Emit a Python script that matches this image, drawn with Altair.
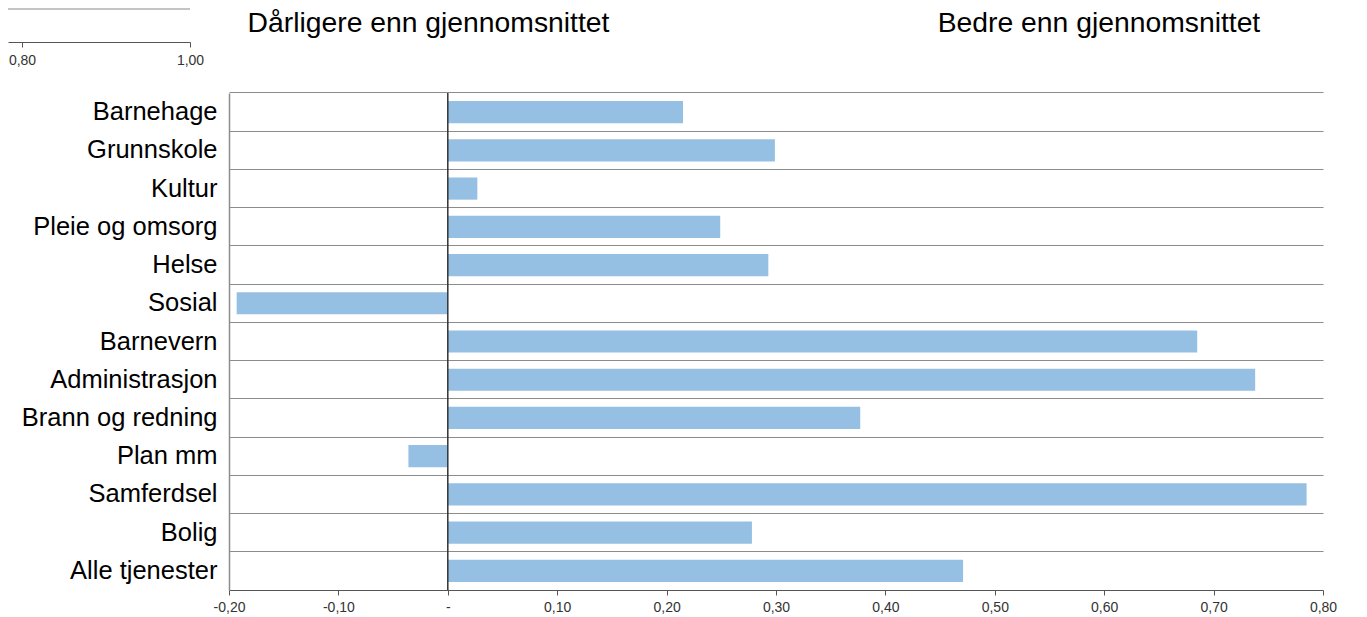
import altair as alt
import pandas as pd

categories = ["Barnehage", "Grunnskole", "Kultur", "Pleie og omsorg", "Helse", "Sosial",
              "Barnevern", "Administrasjon", "Brann og redning", "Plan mm", "Samferdsel",
              "Bolig", "Alle tjenester"]
values = [0.215, 0.299, 0.027, 0.249, 0.293, -0.193, 0.685, 0.738, 0.377, -0.036, 0.785, 0.278, 0.471]
x_ticks = [-0.2, -0.1, 0.0, 0.1, 0.2, 0.3, 0.4, 0.5, 0.6, 0.7, 0.8]
title_left = "Dårligere enn gjennomsnittet"
title_right = "Bedre enn gjennomsnittet"
frag_ticks = [0.80, 1.00]

FONT = "Liberation Sans"
label_expr = ("abs(datum.value) < 1e-9 ? '-' : (datum.value < 0 ? '-' : '') + "
              "replace(format(abs(datum.value), '.2f'), '.', ',')")

df = pd.DataFrame({"kategori": categories, "verdi": values})

bars = alt.Chart(df).mark_bar(color="#96C0E3", height={"band": 0.58}).encode(
    y=alt.Y("kategori:N", sort=categories,
            scale=alt.Scale(paddingInner=0, paddingOuter=0),
            axis=alt.Axis(title=None, grid=True, bandPosition=0, gridColor="#8c8c8c",
                          gridWidth=1, domainColor="#8c8c8c", domainWidth=1.5, ticks=False,
                          labelFontSize=25.5, labelColor="#000000", labelFont=FONT,
                          labelPadding=12, labelLimit=400)),
    x=alt.X("verdi:Q", scale=alt.Scale(domain=[-0.2, 0.8], nice=False, zero=False),
            axis=alt.Axis(title=None, values=x_ticks, grid=False, labelExpr=label_expr,
                          domainColor="#555555", tickColor="#555555", tickSize=5,
                          labelFontSize=14, labelFont=FONT, labelColor="#333333",
                          labelPadding=5, labelFlush=False, labelOverlap=False)),
)

zero_rule = alt.Chart(pd.DataFrame({"verdi": [0.0]})).mark_rule(
    color="#333333", strokeWidth=1.5).encode(x=alt.X("verdi:Q"))

t_left = alt.Chart(pd.DataFrame({"t": [title_left]})).mark_text(
    fontSize=28.3, font=FONT, color="#000000", align="center", baseline="alphabetic"
).encode(text="t:N", x=alt.value(199.5), y=alt.value(-61))

t_right = alt.Chart(pd.DataFrame({"t": [title_right]})).mark_text(
    fontSize=28.3, font=FONT, color="#000000", align="center", baseline="alphabetic"
).encode(text="t:N", x=alt.value(870), y=alt.value(-61))

frag_line = alt.Chart(pd.DataFrame({"a": [1]})).mark_rule(
    color="#b0b0b0", strokeWidth=1.5
).encode(x=alt.value(-221), x2=alt.value(-39), y=alt.value(-84))

main = alt.layer(bars, zero_rule, t_left, t_right, frag_line)

frag = alt.Chart(pd.DataFrame({"v": frag_ticks})).mark_point(opacity=0).encode(
    x=alt.X("v:Q",
            scale=alt.Scale(domain=[0.7833, 1.0], range=[-221, -39], nice=False, zero=False),
            axis=alt.Axis(orient="bottom", offset=-548, values=frag_ticks, title=None,
                          labelExpr=label_expr, grid=False, domainColor="#555555",
                          tickColor="#555555", tickSize=5, labelFontSize=14, labelFont=FONT,
                          labelColor="#333333", labelPadding=6, labelFlush=False,
                          labelOverlap=False))
)

chart = alt.layer(main, frag).resolve_scale(x="independent").properties(
    width=1094, height=497,
    padding={"left": 221, "top": 85, "right": 20, "bottom": 30},
    autosize="none",
    background="#ffffff",
).configure_view(stroke=None)

chart.save("out.html", embed_options={"renderer": "svg", "actions": False})
